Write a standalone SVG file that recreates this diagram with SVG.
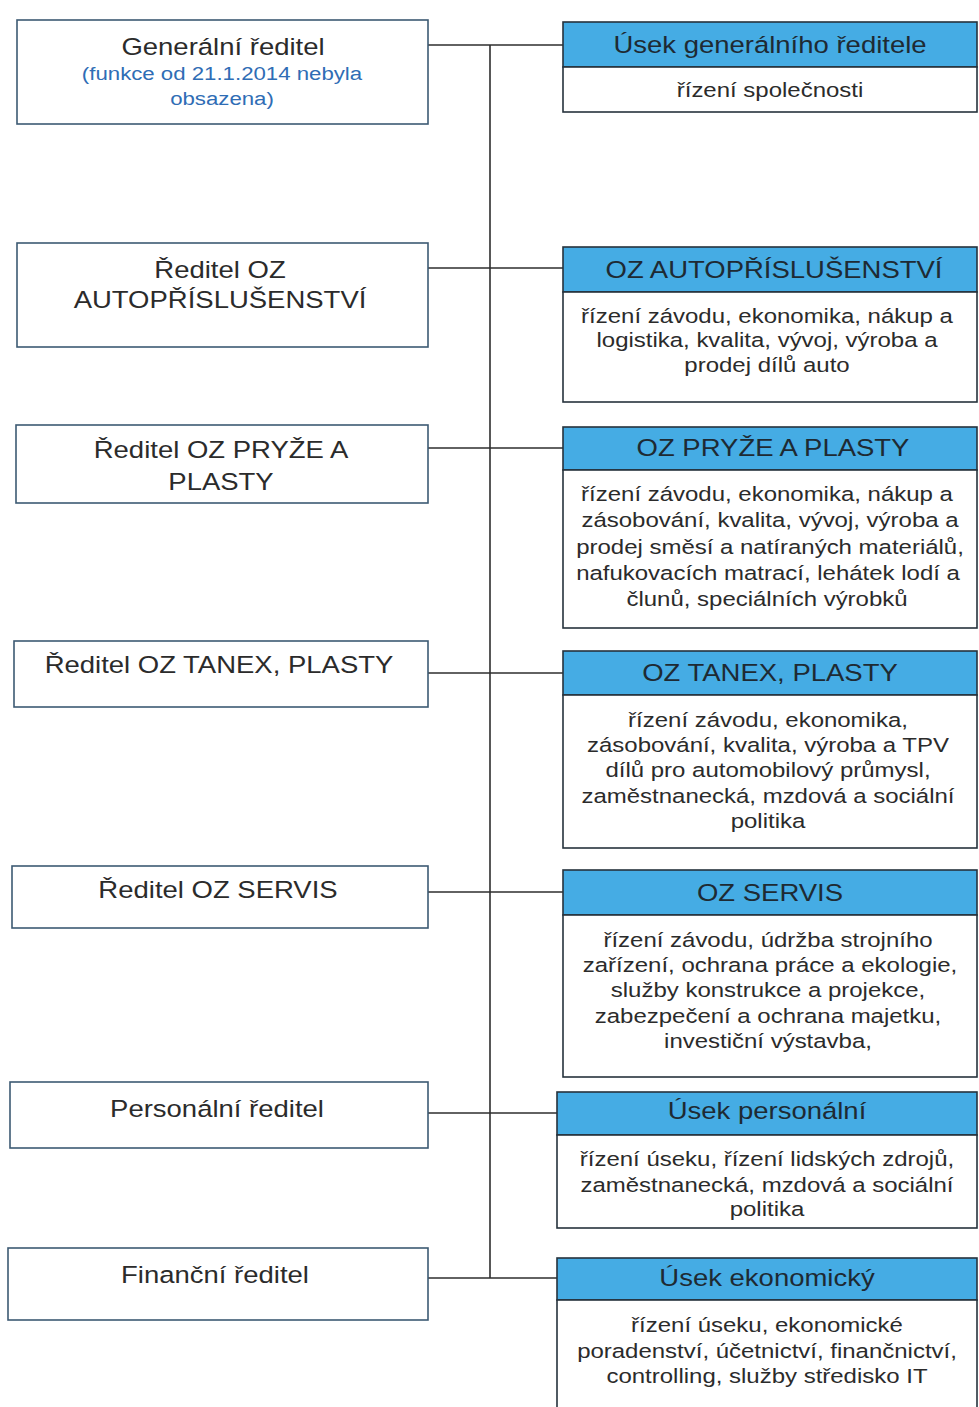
<svg xmlns="http://www.w3.org/2000/svg" width="979" height="1407" viewBox="0 0 979 1407">
<style>
text{font-family:"Liberation Sans",Arial,sans-serif;text-anchor:middle;fill:#2b2b2b}
.lb{fill:#ffffff;stroke:#3d5a73;stroke-width:1.6}
.hd{fill:#45ace4;stroke:#26323c;stroke-width:1.6}
.bd{fill:#ffffff;stroke:#26323c;stroke-width:1.6}
.t1{font-size:23.5px}
.th{font-size:23.5px;fill:#1e2a33}
.tb{font-size:20.5px}
.blue{font-size:19px;fill:#2f6db5}
.conn line{stroke:#2e2e2e;stroke-width:1.6}
</style>
<rect width="979" height="1407" fill="#ffffff"/>
<g class="conn" id="connectors">
<line x1="490" y1="45" x2="490" y2="1278"/>
<line x1="428" y1="45" x2="563" y2="45"/>
<line x1="428" y1="268" x2="563" y2="268"/>
<line x1="428" y1="448" x2="563" y2="448"/>
<line x1="428" y1="673" x2="563" y2="673"/>
<line x1="428" y1="892" x2="563" y2="892"/>
<line x1="428" y1="1113" x2="557" y2="1113"/>
<line x1="428" y1="1278" x2="557" y2="1278"/>
</g>
<g id="gen-reditel">
<rect class="lb" x="17" y="20" width="411" height="104"/>
<text class="t1" transform="translate(223,55) scale(1.17,1)">Generální ředitel</text>
<text class="blue" transform="translate(222,80) scale(1.17,1)">(funkce od 21.1.2014 nebyla</text>
<text class="blue" transform="translate(222,105) scale(1.17,1)">obsazena)</text>
</g>
<g id="usek-gen">
<rect class="hd" x="563" y="22" width="414" height="45"/>
<rect class="bd" x="563" y="67" width="414" height="45"/>
<text class="th" transform="translate(770,53) scale(1.17,1)">Úsek generálního ředitele</text>
<text class="tb" transform="translate(770,97) scale(1.17,1)">řízení společnosti</text>
</g>
<g id="reditel-auto">
<rect class="lb" x="17" y="243" width="411" height="104"/>
<text class="t1" transform="translate(220,278) scale(1.17,1)">Ředitel OZ</text>
<text class="t1" transform="translate(220,308) scale(1.17,1)">AUTOPŘÍSLUŠENSTVÍ</text>
</g>
<g id="oz-auto">
<rect class="hd" x="563" y="247" width="414" height="45"/>
<rect class="bd" x="563" y="292" width="414" height="110"/>
<text class="th" transform="translate(774,278) scale(1.17,1)">OZ AUTOPŘÍSLUŠENSTVÍ</text>
<text class="tb" transform="translate(767,323) scale(1.17,1)">řízení závodu, ekonomika, nákup a</text>
<text class="tb" transform="translate(767,347) scale(1.17,1)">logistika, kvalita, vývoj,  výroba a</text>
<text class="tb" transform="translate(767,372) scale(1.17,1)">prodej dílů auto</text>
</g>
<g id="reditel-pryze">
<rect class="lb" x="16" y="425" width="412" height="78"/>
<text class="t1" transform="translate(221,458) scale(1.17,1)">Ředitel OZ PRYŽE A</text>
<text class="t1" transform="translate(221,490) scale(1.17,1)">PLASTY</text>
</g>
<g id="oz-pryze">
<rect class="hd" x="563" y="427" width="414" height="43"/>
<rect class="bd" x="563" y="470" width="414" height="158"/>
<text class="th" transform="translate(773,456) scale(1.17,1)">OZ PRYŽE A PLASTY</text>
<text class="tb" transform="translate(767,501) scale(1.17,1)">řízení závodu, ekonomika, nákup a</text>
<text class="tb" transform="translate(770,527) scale(1.17,1)">zásobování, kvalita, vývoj, výroba a</text>
<text class="tb" transform="translate(770,554) scale(1.17,1)">prodej směsí a natíraných materiálů,</text>
<text class="tb" transform="translate(768,580) scale(1.17,1)">nafukovacích matrací, lehátek lodí a</text>
<text class="tb" transform="translate(767,606) scale(1.17,1)">člunů, speciálních výrobků</text>
</g>
<g id="reditel-tanex">
<rect class="lb" x="14" y="641" width="414" height="66"/>
<text class="t1" transform="translate(219,673) scale(1.17,1)">Ředitel OZ TANEX, PLASTY</text>
</g>
<g id="oz-tanex">
<rect class="hd" x="563" y="651" width="414" height="44"/>
<rect class="bd" x="563" y="695" width="414" height="153"/>
<text class="th" transform="translate(770,681) scale(1.17,1)">OZ TANEX, PLASTY</text>
<text class="tb" transform="translate(768,727) scale(1.17,1)">řízení závodu, ekonomika,</text>
<text class="tb" transform="translate(768,752) scale(1.17,1)">zásobování, kvalita, výroba a TPV</text>
<text class="tb" transform="translate(768,777) scale(1.17,1)">dílů pro automobilový průmysl,</text>
<text class="tb" transform="translate(768,803) scale(1.17,1)">zaměstnanecká, mzdová a sociální</text>
<text class="tb" transform="translate(768,828) scale(1.17,1)">politika</text>
</g>
<g id="reditel-servis">
<rect class="lb" x="12" y="866" width="416" height="62"/>
<text class="t1" transform="translate(218,898) scale(1.17,1)">Ředitel OZ SERVIS</text>
</g>
<g id="oz-servis">
<rect class="hd" x="563" y="870" width="414" height="45"/>
<rect class="bd" x="563" y="915" width="414" height="162"/>
<text class="th" transform="translate(770,901) scale(1.17,1)">OZ SERVIS</text>
<text class="tb" transform="translate(768,947) scale(1.17,1)">řízení závodu, údržba strojního</text>
<text class="tb" transform="translate(770,972) scale(1.17,1)">zařízení, ochrana práce a ekologie,</text>
<text class="tb" transform="translate(768,997) scale(1.17,1)">služby konstrukce a projekce,</text>
<text class="tb" transform="translate(768,1023) scale(1.17,1)">zabezpečení a ochrana majetku,</text>
<text class="tb" transform="translate(768,1048) scale(1.17,1)">investiční výstavba,</text>
</g>
<g id="personalni-reditel">
<rect class="lb" x="10" y="1082" width="418" height="66"/>
<text class="t1" transform="translate(217,1117) scale(1.17,1)">Personální ředitel</text>
</g>
<g id="usek-personalni">
<rect class="hd" x="557" y="1092" width="420" height="43"/>
<rect class="bd" x="557" y="1135" width="420" height="93"/>
<text class="th" transform="translate(767,1119) scale(1.17,1)">Úsek personální</text>
<text class="tb" transform="translate(767,1166) scale(1.17,1)">řízení úseku, řízení lidských zdrojů,</text>
<text class="tb" transform="translate(767,1192) scale(1.17,1)">zaměstnanecká, mzdová a sociální</text>
<text class="tb" transform="translate(767,1216) scale(1.17,1)">politika</text>
</g>
<g id="financni-reditel">
<rect class="lb" x="8" y="1248" width="420" height="72"/>
<text class="t1" transform="translate(215,1283) scale(1.17,1)">Finanční ředitel</text>
</g>
<g id="usek-ekonomicky">
<rect class="hd" x="557" y="1258" width="420" height="42"/>
<rect class="bd" x="557" y="1300" width="420" height="120"/>
<text class="th" transform="translate(767,1286) scale(1.17,1)">Úsek ekonomický</text>
<text class="tb" transform="translate(767,1332) scale(1.17,1)">řízení úseku, ekonomické</text>
<text class="tb" transform="translate(767,1358) scale(1.17,1)">poradenství, účetnictví, finančnictví,</text>
<text class="tb" transform="translate(767,1383) scale(1.17,1)">controlling, služby středisko IT</text>
</g>
</svg>
